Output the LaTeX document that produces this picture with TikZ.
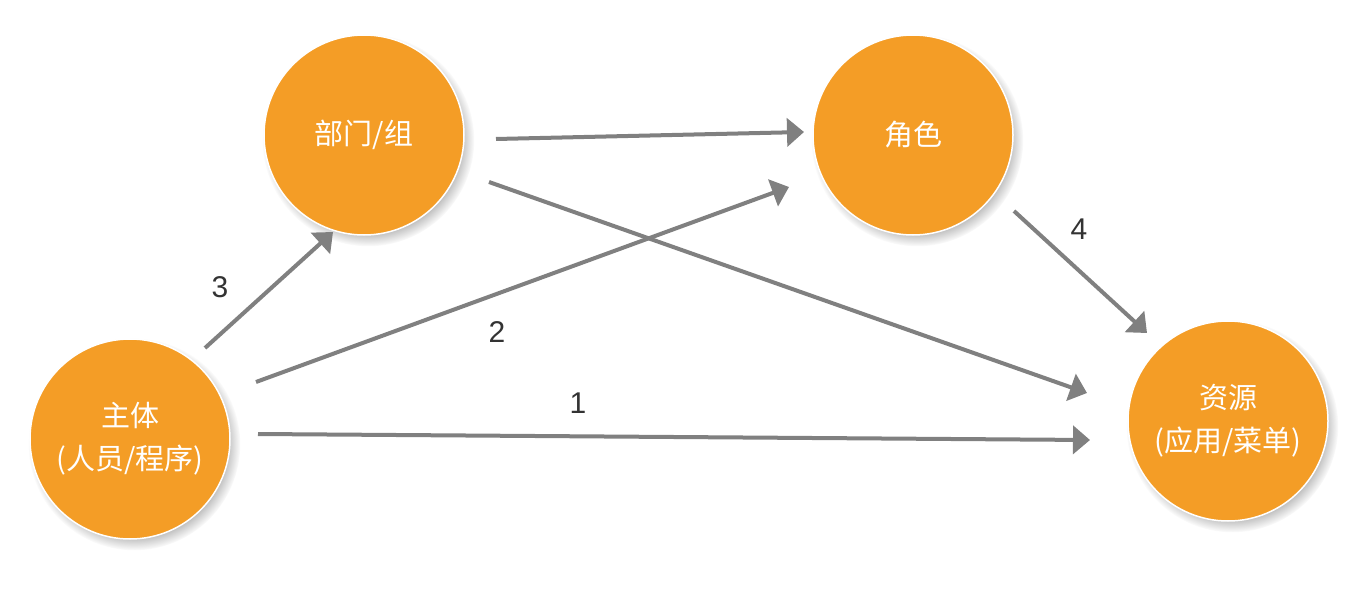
\documentclass[tikz,border=0pt]{standalone}
\usepackage{fontspec}
\setmainfont{Liberation Sans}
\newfontfamily\cjk{Noto Sans CJK SC}
\usetikzlibrary{arrows.meta,shadows,fadings}
\definecolor{orangefill}{RGB}{244,157,38}
\definecolor{arrowgray}{RGB}{128,128,128}
\definecolor{labelgray}{RGB}{51,51,51}
\begin{document}
\begin{tikzpicture}[x=1pt,y=-1pt,
  ball/.style={circle, minimum size=200pt, inner sep=0pt, fill=orangefill,
    draw=white, line width=1.5pt, text=white,
    font=\cjk\fontsize{29}{43}\selectfont, align=center,
    circular drop shadow={shadow xshift=4pt, shadow yshift=-5pt, shadow scale=1.06, opacity=0.6}},
  link/.style={draw=arrowgray, line width=4pt, -{Triangle[length=17pt,width=28pt]}},
  num/.style={text=labelgray, font=\fontsize{30}{36}\selectfont, inner sep=0pt}]
\useasboundingbox (0,0) rectangle (1368,591);
\fill[white] (0,0) rectangle (1368,591);

\node[ball] (zt) at (130,439) {主体\\(人员/程序)};
\node[ball] (bm) at (364,135) {部门/组};
\node[ball] (js) at (913,135) {角色};
\node[ball] (zy) at (1228,421) {资源\\(应用/菜单)};

\coordinate (s3) at (205,348);  \coordinate (e3) at (333,232);
\coordinate (sa) at (496,139);  \coordinate (ea) at (804,132);
\coordinate (s2) at (256,382);  \coordinate (e2) at (789,187);
\coordinate (sb) at (489,182);  \coordinate (eb) at (1087,393);
\coordinate (s1) at (258,434);  \coordinate (e1) at (1090,440);
\coordinate (s4) at (1014,211); \coordinate (e4) at (1147,333);

\draw[link] (s3) -- (e3);
\draw[link] (sa) -- (ea);
\draw[link] (s2) -- (e2);
\draw[link] (sb) -- (eb);
\draw[link] (s1) -- (e1);
\draw[link] (s4) -- (e4);

\node[num] (n3) at (220,287) {3};
\node[num] (n2) at (497,332) {2};
\node[num] (n1) at (578,403) {1};
\node[num] (n4) at (1079,229) {4};
\end{tikzpicture}
\end{document}
